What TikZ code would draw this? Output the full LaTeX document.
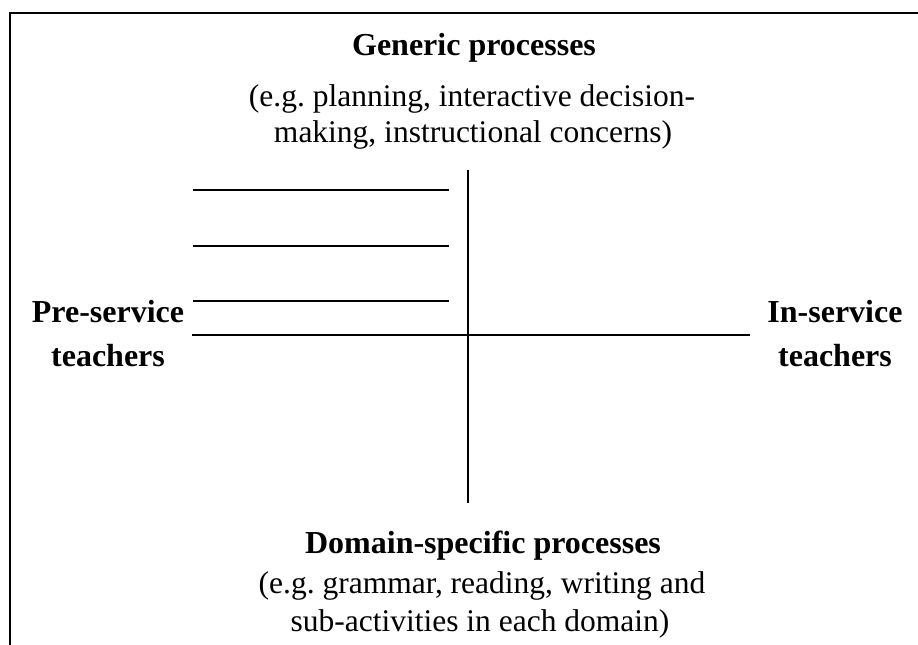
\documentclass[tikz,border=0pt]{standalone}
\usepackage{fontspec}
\setmainfont{Liberation Serif}
\begin{document}
\frenchspacing
\begin{tikzpicture}[x=1pt,y=-1pt,
  hd/.style={anchor=base,inner sep=0pt,font=\fontsize{32}{36}\selectfont\bfseries},
  tx/.style={anchor=base,inner sep=0pt,font=\fontsize{31.5}{36}\selectfont},
  axis/.style={line width=1.8pt},
  blank/.style={line width=1.3pt},
  frame/.style={line width=2.2pt}]
\useasboundingbox (0,0) rectangle (918,645);
% frame (top and left only)
\coordinate (fTR) at (918,13);
\coordinate (fTL) at (10,13);
\coordinate (fBL) at (10,645);
\draw[frame] (fTR) -- (fTL) -- (fBL);
% texts
\node[hd] (gen) at (474,55) {Generic processes};
\node[tx] (genA) at (472,106) {(e.g. planning, interactive decision-};
\node[tx] (genB) at (473,142) {making, instructional concerns)};
\node[hd] (pre) at (108,322) {Pre-service};
\node[hd] (preB) at (108,366) {teachers};
\node[hd] (ins) at (835,322) {In-service};
\node[hd] (insB) at (835,366) {teachers};
\node[hd] (dom) at (483,553) {Domain-specific processes};
\node[tx] (domA) at (482,593) {(e.g. grammar, reading, writing and};
\node[tx] (domB) at (480,631) {sub-activities in each domain)};
% axes
\coordinate (vT) at (468,170);
\coordinate (vB) at (468,503);
\coordinate (hL) at (192,335);
\coordinate (hR) at (750,335);
\draw[axis] (vT) -- (vB);
\draw[axis] (hL) -- (hR);
% blanks
\coordinate (b1L) at (193,190); \coordinate (b1R) at (449,190);
\coordinate (b2L) at (193,246); \coordinate (b2R) at (449,246);
\coordinate (b3L) at (193,301); \coordinate (b3R) at (449,301);
\draw[blank] (b1L) -- (b1R);
\draw[blank] (b2L) -- (b2R);
\draw[blank] (b3L) -- (b3R);
\end{tikzpicture}
\end{document}
